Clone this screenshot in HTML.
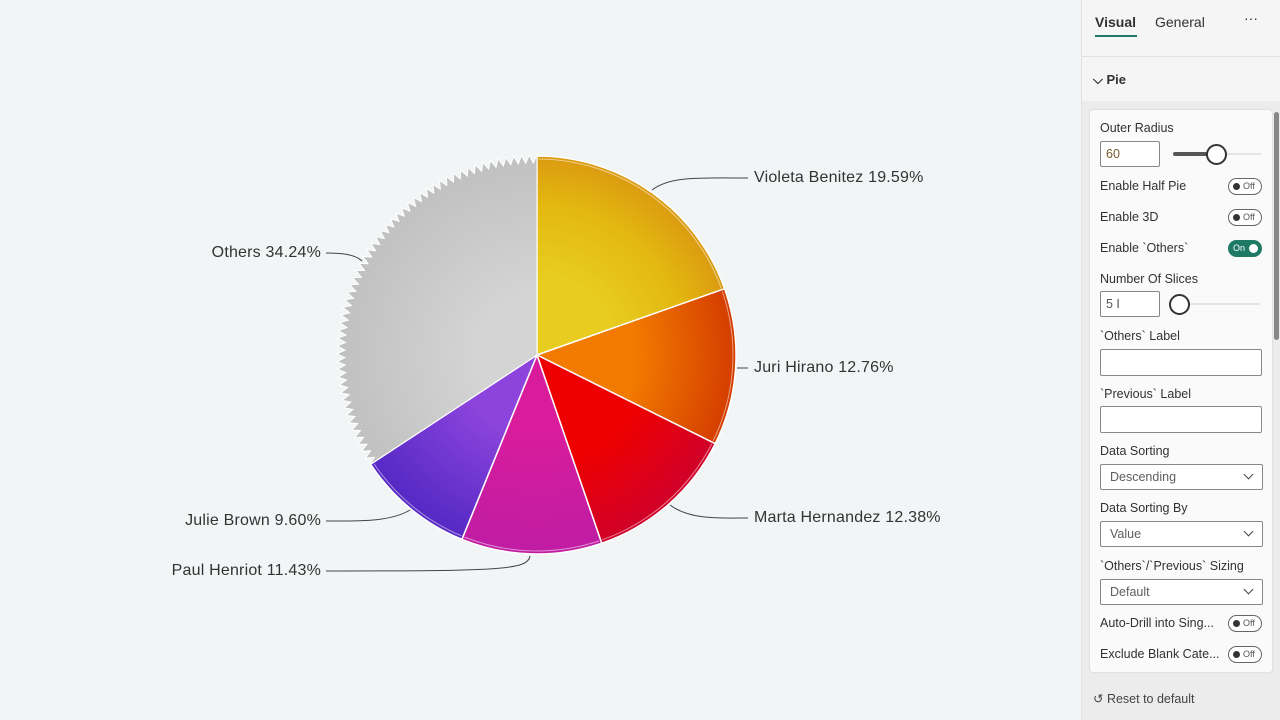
<!DOCTYPE html>
<html><head><meta charset="utf-8"><style>
body{margin:0;width:1280px;height:720px;overflow:hidden;background:#f2f5f6;font-family:"Liberation Sans",sans-serif;position:relative}
.panel{position:absolute;left:1081px;top:0;width:199px;height:720px;background:#f5f5f5;border-left:1px solid #e1e1e1}
.t{position:absolute;font-size:12.5px;color:#323130;white-space:nowrap}
.card{position:absolute;left:1090px;top:110px;width:182px;height:562px;background:#fafafa;border-radius:3px;box-shadow:0 0 2px #ccc}
.inp{position:absolute;width:160px;height:24px;border:1px solid #8a8886;border-radius:2px;background:#fff}
.tog{position:absolute;left:1228px;width:32px;height:15px;border:1px solid #666;border-radius:9px;background:#fff;font-size:9px;color:#555}
.tog:before{content:"";position:absolute;left:4px;top:4px;width:7px;height:7px;border-radius:50%;background:#333}
.tog span{position:absolute;left:14px;top:2px}
.dd{position:absolute;left:1100px;width:161px;height:24px;border:1px solid #8a8886;border-radius:2px;background:#fff;font-size:12.5px;color:#605e5c}
.dd span{position:absolute;left:9px;top:5px}
.dd:after{content:"";position:absolute;right:10px;top:6px;width:6px;height:6px;border-right:1.5px solid #444;border-bottom:1.5px solid #444;transform:rotate(45deg)}
.lbl{position:absolute;font-size:16px;color:#333;white-space:nowrap;letter-spacing:0.2px}
</style></head><body>
<svg width="1080" height="720" style="position:absolute;left:0;top:0">
<defs>
<radialGradient id="g0" cx="537" cy="355" r="200" gradientUnits="userSpaceOnUse"><stop offset="0.4" stop-color="#e8cc20"/><stop offset="0.75" stop-color="#e3b810"/><stop offset="1" stop-color="#db9a10"/></radialGradient>
<radialGradient id="g1" cx="537" cy="355" r="200" gradientUnits="userSpaceOnUse"><stop offset="0.5" stop-color="#f27a00"/><stop offset="1" stop-color="#d43c00"/></radialGradient>
<radialGradient id="g2" cx="537" cy="355" r="200" gradientUnits="userSpaceOnUse"><stop offset="0.55" stop-color="#ee0000"/><stop offset="1" stop-color="#d0002a"/></radialGradient>
<radialGradient id="g3" cx="537" cy="355" r="200" gradientUnits="userSpaceOnUse"><stop offset="0.4" stop-color="#d81c9c"/><stop offset="1" stop-color="#bf1ca4"/></radialGradient>
<radialGradient id="g4" cx="537" cy="355" r="200" gradientUnits="userSpaceOnUse"><stop offset="0.4" stop-color="#8c44dc"/><stop offset="1" stop-color="#5428c4"/></radialGradient>
<radialGradient id="g5" cx="537" cy="355" r="200" gradientUnits="userSpaceOnUse"><stop offset="0.3" stop-color="#d4d4d4"/><stop offset="1" stop-color="#c0c0c0"/></radialGradient>
</defs>
<g id="pie"></g>
<g fill="none" stroke="#444" stroke-width="1">
<path d="M652,190 C670,176 700,178 748,178"/>
<path d="M737,368 L748,368"/>
<path d="M670,505 C690,520 720,518 748,518"/>
<path d="M530,556 C528,570 500,571 326,571"/>
<path d="M410,510 C390,522 360,521 326,521"/>
<path d="M362,261 C355,254 340,253 326,253"/>
</g>
</svg>
<div class="lbl" style="left:754px;top:169px">Violeta Benitez 19.59%</div>
<div class="lbl" style="left:754px;top:359px">Juri Hirano 12.76%</div>
<div class="lbl" style="left:754px;top:509px">Marta Hernandez 12.38%</div>
<div class="lbl" style="right:959px;top:562px">Paul Henriot 11.43%</div>
<div class="lbl" style="right:959px;top:512px">Julie Brown 9.60%</div>
<div class="lbl" style="right:959px;top:244px">Others 34.24%</div>

<div class="panel"></div>
<div class="t" style="left:1095px;top:14px;font-size:14px;font-weight:bold">Visual</div>
<div style="position:absolute;left:1095px;top:35px;width:42px;height:2px;background:#1f7a6a"></div>
<div class="t" style="left:1155px;top:14px;font-size:14px">General</div>
<div class="t" style="left:1244px;top:10px;font-size:14px">···</div>
<div style="position:absolute;left:1082px;top:56px;width:198px;height:1px;background:#e1e1e1"></div>
<div class="t" style="left:1093px;top:72px;font-weight:bold;font-size:13px">⌵ Pie</div>
<div style="position:absolute;left:1082px;top:101px;width:198px;height:619px;background:#ececec"></div>
<div class="card"></div>
<div style="position:absolute;left:1274px;top:112px;width:5px;height:228px;background:#888;border-radius:3px"></div>
<div class="t" style="left:1100px;top:121px">Outer Radius</div>
<div class="inp" style="left:1100px;top:141px;width:58px"><span class="t" style="left:5px;top:5px;color:#7a5a2a">60</span></div>
<div style="position:absolute;left:1173px;top:152px;width:44px;height:4px;background:#555;border-radius:2px"></div>
<div style="position:absolute;left:1217px;top:153px;width:44px;height:2px;background:#e4e4e4"></div>
<div style="position:absolute;left:1206px;top:144px;width:17px;height:17px;border:2px solid #333;border-radius:50%;background:#fff"></div>
<div class="t" style="left:1100px;top:179px">Enable Half Pie</div><div class="tog" style="top:178px"><span>Off</span></div>
<div class="t" style="left:1100px;top:210px">Enable 3D</div><div class="tog" style="top:209px"><span>Off</span></div>
<div class="t" style="left:1100px;top:241px">Enable `Others`</div>
<div style="position:absolute;left:1228px;top:240px;width:34px;height:17px;border-radius:9px;background:#1e7a65;font-size:9px;color:#fff"><span style="position:absolute;left:5px;top:3px">On</span><span style="position:absolute;right:4px;top:4px;width:9px;height:9px;border-radius:50%;background:#fff"></span></div>
<div class="t" style="left:1100px;top:272px">Number Of Slices</div>
<div class="inp" style="left:1100px;top:291px;width:58px"><span class="t" style="left:5px;top:5px;color:#555">5 I</span></div>
<div style="position:absolute;left:1180px;top:303px;width:80px;height:2px;background:#e4e4e4"></div>
<div style="position:absolute;left:1169px;top:294px;width:17px;height:17px;border:2px solid #333;border-radius:50%;background:#fff"></div>
<div class="t" style="left:1100px;top:329px">`Others` Label</div>
<div class="inp" style="left:1100px;top:349px;height:25px"></div>
<div class="t" style="left:1100px;top:387px">`Previous` Label</div>
<div class="inp" style="left:1100px;top:406px;height:25px"></div>
<div class="t" style="left:1100px;top:444px">Data Sorting</div>
<div class="dd" style="top:464px"><span>Descending</span></div>
<div class="t" style="left:1100px;top:501px">Data Sorting By</div>
<div class="dd" style="top:521px"><span>Value</span></div>
<div class="t" style="left:1100px;top:559px">`Others`/`Previous` Sizing</div>
<div class="dd" style="top:579px"><span>Default</span></div>
<div class="t" style="left:1100px;top:616px">Auto-Drill into Sing...</div><div class="tog" style="top:615px"><span>Off</span></div>
<div class="t" style="left:1100px;top:647px">Exclude Blank Cate...</div><div class="tog" style="top:646px"><span>Off</span></div>
<div class="t" style="left:1093px;top:691px;color:#444">↺ Reset to default</div>
<script>
var cx=537,cy=355,r=199,g=document.getElementById('pie');
var v=[19.59,12.76,12.38,11.43,9.60,34.24],a=0,s='';
function p(ang,rr){var t=(ang-90)*Math.PI/180;return (cx+rr*Math.cos(t)).toFixed(1)+','+(cy+rr*Math.sin(t)).toFixed(1);}
for(var i=0;i<6;i++){var b=a+v[i]*3.6;
 if(i<5){s+='<path d="M'+cx+','+cy+' L'+p(a,r)+' A'+r+','+r+' 0 0,1 '+p(b,r)+' Z" fill="url(#g'+i+')" stroke="#fff" stroke-width="1.5"/>';
  s+='<path d="M'+p(a+0.5,r-3)+' A'+(r-3)+','+(r-3)+' 0 0,1 '+p(b-0.5,r-3)+'" fill="none" stroke="rgba(255,255,255,0.5)" stroke-width="1"/>';}
 else{var pts=[cx+','+cy],n=110;for(var k=0;k<=n;k++){var an=a+(b-a)*k/n;pts.push(p(an,k%2?r-7:r+1));}
  s+='<polygon points="'+pts.join(' ')+'" fill="url(#g5)" stroke="#fff" stroke-width="1"/>';}
 a=b;}
g.innerHTML=s;
</script>
</body></html>
